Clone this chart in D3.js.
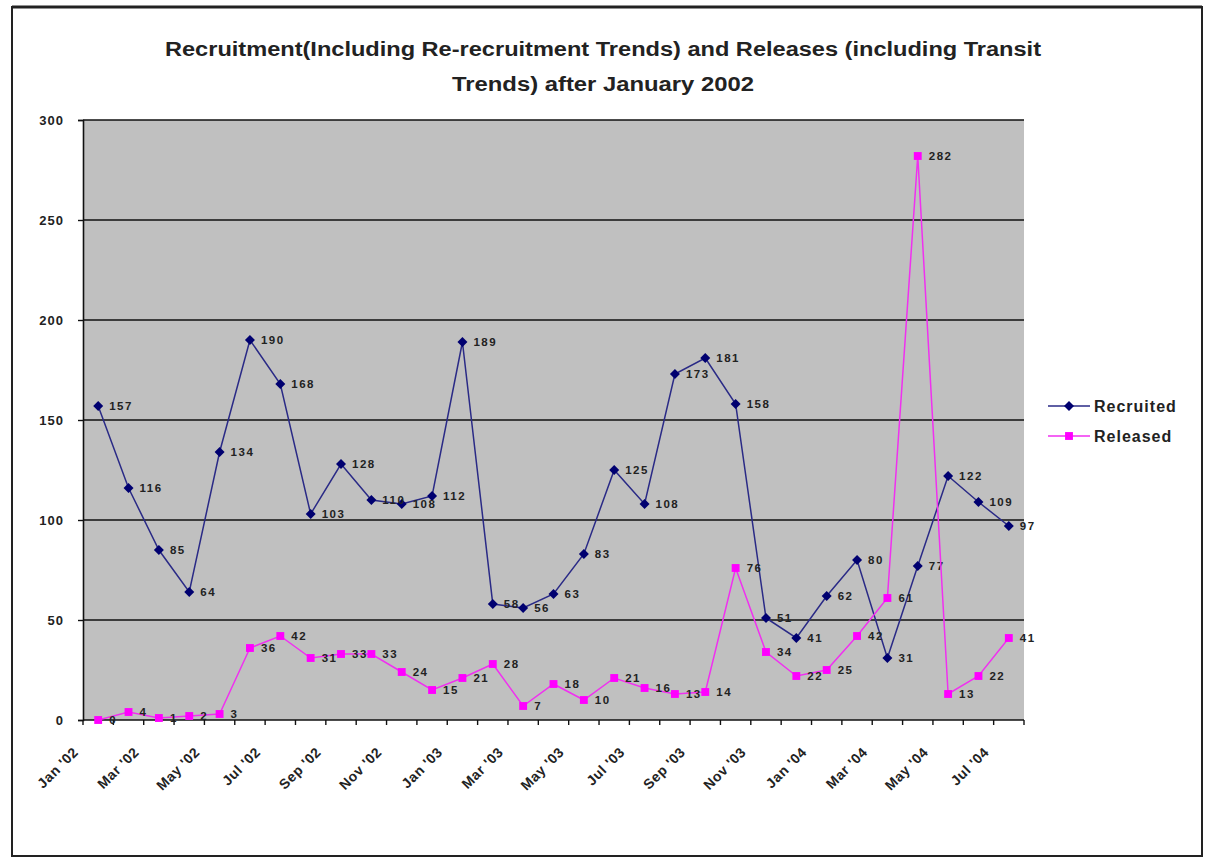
<!DOCTYPE html>
<html>
<head>
<meta charset="utf-8">
<script src="https://cdn.jsdelivr.net/npm/d3@7"></script>
<style>
  body { margin: 0; background: #fff; }
  svg { display: block; font-family: "Liberation Sans", Arial, sans-serif; }
</style>
</head>
<body>
<div id="chart"></div>
<script>
// Monthly recruitment / releases, Jan 2002 - Jul 2004
const months = ["Jan '02","Feb '02","Mar '02","Apr '02","May '02","Jun '02","Jul '02","Aug '02","Sep '02","Oct '02","Nov '02","Dec '02",
  "Jan '03","Feb '03","Mar '03","Apr '03","May '03","Jun '03","Jul '03","Aug '03","Sep '03","Oct '03","Nov '03","Dec '03",
  "Jan '04","Feb '04","Mar '04","Apr '04","May '04","Jun '04","Jul '04"];
const recruited = [157,116,85,64,134,190,168,103,128,110,108,112,189,58,56,63,83,125,108,173,181,158,51,41,62,80,31,77,122,109,97];
const released = [0,4,1,2,3,36,42,31,33,33,24,15,21,28,7,18,10,21,16,13,14,76,34,22,25,42,61,282,13,22,41];
const yTicks = [0,50,100,150,200,250,300];
const tickLabels = months.filter((m, i) => i % 2 === 0);

const width = 1205, height = 859;
const plot = {left: 83, top: 120, right: 1024, bottom: 720};

const svg = d3.select('#chart').append('svg')
    .attr('width', width)
    .attr('height', height);

// outer frame
svg.append('rect')
    .attr('x', 12).attr('y', 7)
    .attr('width', 1190).attr('height', 849)
    .attr('fill', '#fff')
    .attr('stroke', '#222')
    .attr('stroke-width', 2);
svg.append('line')
    .attr('x1', 12).attr('x2', 1202).attr('y1', 7).attr('y2', 7)
    .attr('stroke', '#222').attr('stroke-width', 3);

// title
const title = svg.append('text')
    .attr('text-anchor', 'middle')
    .attr('font-weight', 'bold')
    .attr('font-size', '20px')
    .attr('fill', '#222');
title.append('tspan')
    .attr('x', 603).attr('y', 56)
    .attr('textLength', 876).attr('lengthAdjust', 'spacingAndGlyphs')
    .text('Recruitment(Including Re-recruitment Trends) and Releases (including Transit');
title.append('tspan')
    .attr('x', 603).attr('y', 91)
    .attr('textLength', 302).attr('lengthAdjust', 'spacingAndGlyphs')
    .text('Trends) after January 2002');

const x = d3.scaleBand()
    .domain(months)
    .range([plot.left, plot.right]);
const y = d3.scaleLinear()
    .domain([0, 300])
    .range([plot.bottom, plot.top]);
const cx = m => x(m) + x.bandwidth() / 2;

// plot background
svg.append('rect')
    .attr('x', plot.left).attr('y', plot.top)
    .attr('width', plot.right - plot.left)
    .attr('height', plot.bottom - plot.top)
    .attr('fill', '#c0c0c0');

// grid lines
svg.append('g')
    .selectAll('line')
    .data(yTicks.filter(t => t > 0))
    .join('line')
    .attr('x1', plot.left).attr('x2', plot.right)
    .attr('y1', d => y(d)).attr('y2', d => y(d))
    .attr('stroke', '#111')
    .attr('stroke-width', 1.6);

// y axis
const yAxis = svg.append('g')
    .attr('transform', `translate(${plot.left},0)`)
    .call(d3.axisLeft(y).tickValues(yTicks).tickSize(5).tickPadding(14));
yAxis.select('.domain').attr('stroke', '#111').attr('stroke-width', 1.6);
yAxis.selectAll('.tick line').attr('stroke', '#111').attr('stroke-width', 1.4);
yAxis.selectAll('text')
    .attr('font-family', '"Liberation Sans", Arial, sans-serif')
    .attr('font-size', '13px')
    .attr('font-weight', 'bold')
    .attr('letter-spacing', '1px')
    .attr('fill', '#222');

// x axis line + ticks at category boundaries
svg.append('line')
    .attr('x1', plot.left).attr('x2', plot.right)
    .attr('y1', plot.bottom).attr('y2', plot.bottom)
    .attr('stroke', '#111').attr('stroke-width', 1.6);
const bounds = months.map(m => x(m)).concat([plot.right]);
svg.append('g')
    .selectAll('line')
    .data(bounds)
    .join('line')
    .attr('x1', d => d).attr('x2', d => d)
    .attr('y1', plot.bottom).attr('y2', plot.bottom + 5)
    .attr('stroke', '#111').attr('stroke-width', 1.4);

// x labels (every other month), rotated
svg.append('g')
    .selectAll('text')
    .data(tickLabels)
    .join('text')
    .attr('transform', d => `translate(${cx(d) - 19},${plot.bottom + 33}) rotate(-45)`)
    .attr('text-anchor', 'end')
    .attr('font-size', '14px')
    .attr('font-weight', 'bold')
    .attr('letter-spacing', '0.6px')
    .attr('fill', '#222')
    .text(d => d);

// series
const diamond = d3.symbol().type(d3.symbolSquare).size(50);
const square = d3.symbol().type(d3.symbolSquare).size(62);
const series = [
  {name: 'Recruited', values: recruited, line: '#2a2a86', fill: '#000070', shape: diamond, rot: 45},
  {name: 'Released', values: released, line: '#f030f0', fill: '#ff00ff', shape: square, rot: 0}
];

const line = d3.line()
    .x(d => cx(d.m))
    .y(d => y(d.v));

series.forEach(s => {
  const pts = s.values.map((v, i) => ({m: months[i], v: v}));
  const g = svg.append('g');

  g.append('path')
      .datum(pts)
      .attr('fill', 'none')
      .attr('stroke', s.line)
      .attr('stroke-width', 1.5)
      .attr('d', line);

  g.selectAll('path.pt')
      .data(pts)
      .join('path')
      .attr('class', 'pt')
      .attr('transform', d => `translate(${cx(d.m)},${y(d.v)}) rotate(${s.rot})`)
      .attr('d', s.shape)
      .attr('fill', s.fill);

  g.selectAll('text')
      .data(pts)
      .join('text')
      .attr('x', d => cx(d.m) + 11)
      .attr('y', d => y(d.v) + 4)
      .attr('font-size', '11.5px')
      .attr('font-weight', 'bold')
      .attr('letter-spacing', '1.5px')
      .attr('fill', '#222')
      .text(d => d.v);
});

// legend
const legend = svg.append('g')
    .attr('transform', 'translate(1048,406)');
series.forEach((s, i) => {
  const row = legend.append('g').attr('transform', `translate(0,${i * 30})`);
  row.append('line')
      .attr('x1', 0).attr('x2', 42)
      .attr('stroke', s.line).attr('stroke-width', 1.5);
  row.append('path')
      .attr('transform', `translate(21,0) rotate(${s.rot})`)
      .attr('d', s.shape)
      .attr('fill', s.fill);
  row.append('text')
      .attr('x', 46).attr('y', 6)
      .attr('font-size', '16px')
      .attr('font-weight', 'bold')
      .attr('letter-spacing', '1px')
      .attr('fill', '#222')
      .text(s.name);
});
</script>
</body>
</html>
